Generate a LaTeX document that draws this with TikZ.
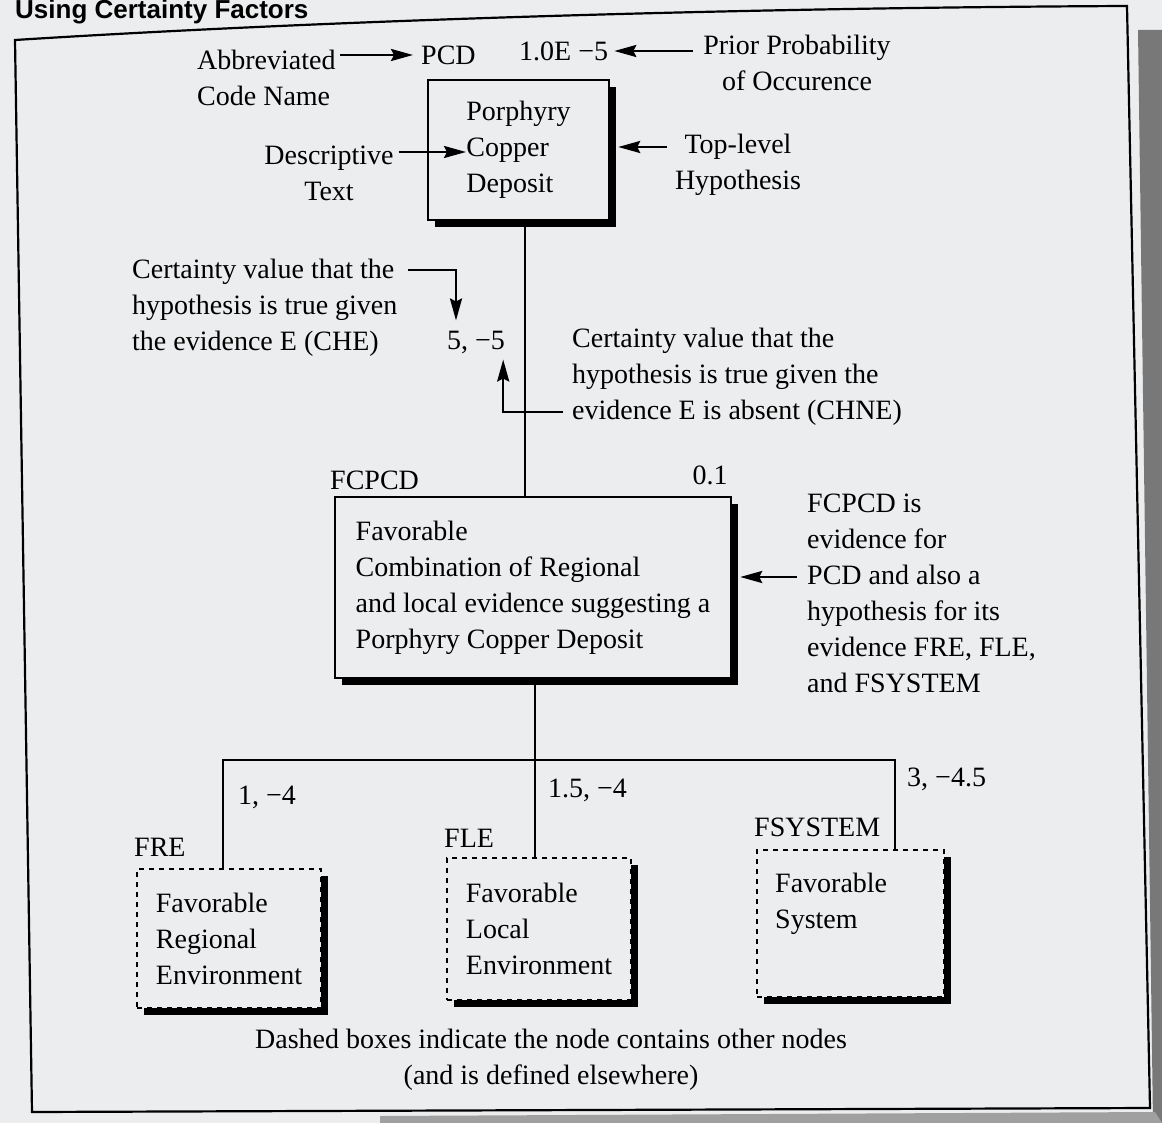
\documentclass[tikz,border=0pt]{standalone}
\usepackage{fontspec}
\setmainfont{Liberation Serif}
\newfontfamily\hdrfont{Liberation Sans}
\usetikzlibrary{arrows.meta,shadows}
\definecolor{pagebg}{RGB}{236,237,238}
\definecolor{scan}{RGB}{120,120,120}
\begin{document}
\begin{tikzpicture}[x=1pt,y=-1pt,
  every node/.style={inner sep=0pt, font=\fontsize{28}{36}\selectfont},
  lbl/.style={align=left, anchor=west},
  ctr/.style={align=center},
  conn/.style={line width=2.5pt},
  arr/.style={conn, -{Stealth[length=22pt,width=12pt,inset=3pt]}},
  solidbox/.style={draw, line width=2.4pt, fill=pagebg, align=left,
    drop shadow={shadow xshift=7pt, shadow yshift=-7pt, fill=black, opacity=1}},
  dashbox/.style={solidbox, dash pattern=on 5pt off 5pt},
]
\useasboundingbox (0,0) rectangle (1162,1123);
\fill[pagebg] (0,0) rectangle (1162,1123);
% scan margins
\fill[scan] (1138,30) -- (1162,30) -- (1162,1123) -- (1153,1123) -- cycle;
\fill[scan!70] (380,1116) -- (1155,1112) -- (1162,1123) -- (380,1123) -- cycle;
% header
\node[anchor=base west, font=\hdrfont\bfseries\fontsize{26}{30}\selectfont] (hdr) at (15,19) {Using Certainty Factors};
% frame
\draw[line width=2.2pt] (15,40) .. controls (300,22) and (700,8) .. (1127,6) -- (1150,1108) -- (32,1112) -- cycle;

% top part
\node[lbl] (abbr) at (197,78) {Abbreviated\\Code Name};
\node[anchor=west] (pcd) at (421,55) {PCD};
\node[anchor=west] (ce) at (519,51) {1.0E −5};
\node[ctr] (prior) at (797,63) {Prior Probability\\of Occurence};
\draw[arr, shorten <=4pt, shorten >=8pt] (abbr.east |- pcd.west) -- (pcd.west);
\draw[arr, shorten <=10pt, shorten >=6pt] (prior.west |- ce.east) -- (ce.east);

\node[solidbox, minimum width=181pt, minimum height=140pt] (pcdbox) at (518.5,150) {Porphyry\\Copper\\Deposit};
\node[ctr] (desc) at (329,173) {Descriptive\\Text};
\coordinate (copperpt) at (466,152);
\draw[arr, shorten <=5pt] (desc.east |- copperpt) -- (copperpt);
\node[ctr] (toplev) at (738,165) {Top-level\\Hypothesis};
\draw[arr, shorten <=8pt] ([yshift=18pt]toplev.west) -- ([yshift=18pt,xshift=8pt]toplev.west -| pcdbox.east);

% certainty values of PCD
\coordinate (vx) at (525,0);
\node[lbl] (che) at (132,308) {Certainty value that the\\hypothesis is true given\\the evidence E (CHE)};
\node[anchor=west] (val) at (447,342) {5, −5};
\node[lbl] (chne) at (572,377) {Certainty value that the\\hypothesis is true given the\\evidence E is absent (CHNE)};
\coordinate (che1) at (408,270);
\coordinate (chne3) at (563,412);
\draw[arr] (che1) -| ([xshift=9pt,yshift=10pt]val.north west);
\draw[arr] (chne3) -| ([xshift=-2pt,yshift=-6pt]val.south east);

% FCPCD
\node[anchor=west] (fcpcdlbl) at (330,480) {FCPCD};
\node (p01) at (710,475) {0.1};
\node[solidbox, minimum width=396pt, minimum height=181pt] (fcpcdbox) at (533,587.5)
  {Favorable\\Combination of Regional\\and local evidence suggesting a\\Porphyry Copper Deposit};
\node[lbl] (fcpcdnote) at (807,593) {FCPCD is\\evidence for\\PCD and also a\\hypothesis for its\\evidence FRE, FLE,\\and FSYSTEM};
\draw[arr, shorten <=10pt] ([yshift=16pt]fcpcdnote.west) -- ([yshift=16pt,xshift=8pt]fcpcdnote.west -| fcpcdbox.east);
\draw[conn] (pcdbox.south -| vx) -- (fcpcdbox.north -| vx);

% evidence boxes
\coordinate (jn) at (535,760);
\coordinate (xl) at (223,760);
\coordinate (xr) at (895,760);
\node[dashbox, minimum width=184pt, minimum height=139pt] (frebox) at (229,938.5) {Favorable\\Regional\\Environment};
\node[dashbox, minimum width=184pt, minimum height=142pt] (flebox) at (539,929) {Favorable\\Local\\Environment};
\node[dashbox, minimum width=187pt, minimum height=147pt] (fsysbox) at (850.5,923.5) {};
\node[lbl] (fsystxt) at (775,904) {Favorable\\System};
\node[anchor=west] (frelbl) at (134,847) {FRE};
\node[anchor=west] (flelbl) at (444,838) {FLE};
\node[anchor=west] (fsyslbl) at (754,827) {FSYSTEM};
\node[anchor=west] (cf1) at (238,797) {1, −4};
\node[anchor=west] (cf2) at (548,790) {1.5, −4};
\node[anchor=west] (cf3) at (907,779) {3, −4.5};
\draw[conn] (fcpcdbox.south -| jn) -- (jn);
\draw[conn] (xl |- frebox.north) -- (xl) -- (xr) -- (xr |- fsysbox.north);
\draw[conn] (jn) -- (jn |- flebox.north);

\node[ctr] (caption) at (551,1060) {Dashed boxes indicate the node contains other nodes\\(and is defined elsewhere)};
\end{tikzpicture}
\end{document}
